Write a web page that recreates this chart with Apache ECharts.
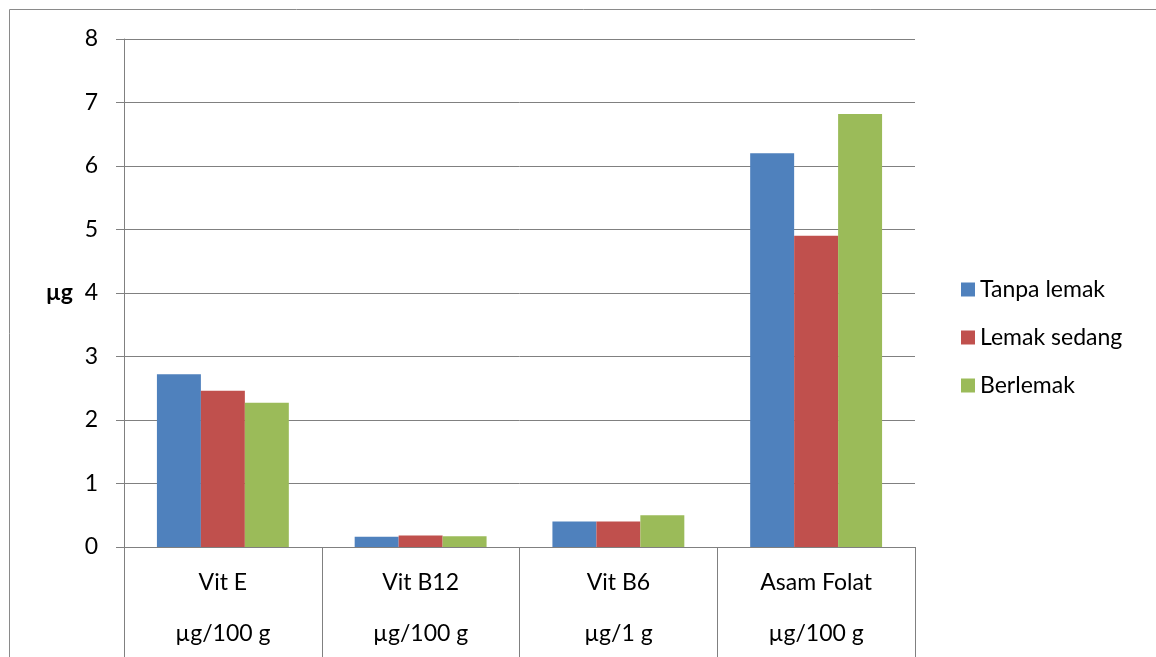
<!DOCTYPE html>
<html>
<head>
<meta charset="utf-8">
<script src="https://cdn.jsdelivr.net/npm/echarts@6/dist/echarts.min.js"></script>
<style>
  html, body { margin: 0; padding: 0; background: #ffffff; }
  #chart { width: 1156px; height: 657px; }
</style>
</head>
<body>
<div id="chart"></div>
<script>
// Vitamin content by milk fat level
const categories = ['Vit E', 'Vit B12', 'Vit B6', 'Asam Folat'];
const units = ['µg/100 g', 'µg/100 g', 'µg/1 g', 'µg/100 g'];
const seriesNames = ['Tanpa lemak', 'Lemak sedang', 'Berlemak'];
const tanpaLemak = [2.72, 0.16, 0.40, 6.20];
const lemakSedang = [2.46, 0.18, 0.40, 4.90];
const berlemak = [2.27, 0.17, 0.50, 6.82];
const yTicks = [0, 1, 2, 3, 4, 5, 6, 7, 8];

const FONT = 'Lato, "Open Sans", sans-serif';
const FS = 23;
const AXIS_GRAY = '#808080';
const colors = ['#4F81BD', '#C0504D', '#9BBB59'];

const chart = echarts.init(document.getElementById('chart'), null, { renderer: 'canvas' });

const values = [tanpaLemak, lemakSedang, berlemak];

chart.setOption({
  animation: false,
  backgroundColor: '#ffffff',
  textStyle: { fontFamily: FONT },
  graphic: [{
    type: 'rect',
    shape: { x: 9.5, y: 9.5, width: 1300, height: 800 },
    style: { fill: 'none', stroke: '#8a8a8a', lineWidth: 1 },
    silent: true,
    z: -1
  }],
  grid: { left: 124, right: 241, top: 39, bottom: 110, containLabel: false },
  legend: {
    orient: 'vertical',
    left: 956,
    top: 273,
    itemWidth: 14,
    itemHeight: 14,
    itemGap: 25,
    icon: 'rect',
    textStyle: { fontFamily: FONT, fontSize: FS, color: '#000000' },
    data: seriesNames
  },
  xAxis: {
    type: 'category',
    data: categories,
    boundaryGap: true,
    axisLine: { show: true, lineStyle: { color: AXIS_GRAY, width: 1 } },
    axisTick: { show: true, length: 110, alignWithLabel: false, lineStyle: { color: AXIS_GRAY, width: 1 } },
    axisLabel: {
      margin: 10,
      interval: 0,
      formatter: function (v, i) { return '{a|' + v + '}\n{a|' + units[i] + '}'; },
      rich: { a: { fontFamily: FONT, fontSize: FS, color: '#000000', lineHeight: 51, align: 'center' } }
    },
    splitLine: { show: false }
  },
  yAxis: {
    type: 'value',
    min: yTicks[0],
    max: yTicks[yTicks.length - 1],
    interval: 1,
    name: 'µg',
    nameLocation: 'middle',
    nameRotate: 0,
    nameGap: 51,
    nameTextStyle: { fontFamily: FONT, fontSize: FS, fontWeight: 'bold', color: '#000000', align: 'right', verticalAlign: 'middle' },
    axisLine: { show: true, lineStyle: { color: AXIS_GRAY, width: 1 } },
    axisTick: { show: true, length: 8, inside: false, lineStyle: { color: AXIS_GRAY, width: 1 } },
    axisLabel: { margin: 26, fontFamily: FONT, fontSize: FS, color: '#000000' },
    splitLine: { show: true, lineStyle: { color: AXIS_GRAY, width: 1 } }
  },
  series: seriesNames.map(function (name, k) {
    return {
      name: name,
      type: 'bar',
      data: values[k],
      barGap: '0%',
      barCategoryGap: '33.3%',
      itemStyle: { color: colors[k] },
      z: 3
    };
  })
});
</script>
</body>
</html>
